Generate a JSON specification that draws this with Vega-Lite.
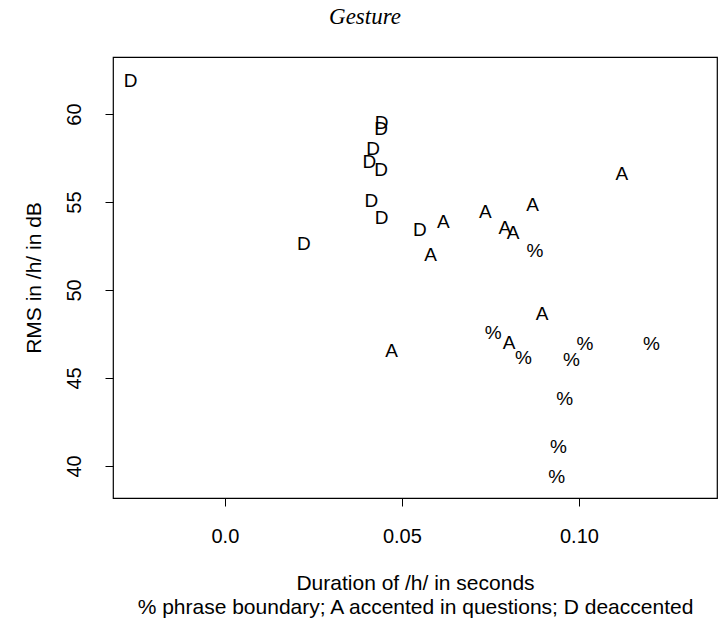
{
  "$schema": "https://vega.github.io/schema/vega-lite/v6.json",
  "width": 604,
  "height": 441,
  "autosize": {"type": "none"},
  "padding": {"left": 113, "top": 57, "right": 2, "bottom": 126},
  "background": "white",
  "title": {
    "text": "Gesture",
    "font": "Liberation Serif",
    "fontStyle": "italic",
    "fontWeight": "normal",
    "fontSize": 23,
    "color": "black",
    "anchor": "middle",
    "baseline": "alphabetic",
    "offset": 10,
    "dx": -50
  },
  "config": {
    "view": {"stroke": "black", "strokeWidth": 1.2},
    "axis": {
      "grid": false,
      "domain": false,
      "tickColor": "black",
      "tickSize": 8,
      "tickWidth": 1,
      "labelFont": "Liberation Sans",
      "labelFontSize": 20,
      "labelColor": "black",
      "titleFont": "Liberation Sans",
      "titleFontSize": 21,
      "titleFontWeight": "normal",
      "titleColor": "black"
    }
  },
  "data": {
    "values": [
      {"dur": -0.0266, "rms": 61.93, "sym": "D"},
      {"dur": 0.0443, "rms": 59.56, "sym": "D"},
      {"dur": 0.0441, "rms": 59.2, "sym": "D"},
      {"dur": 0.0419, "rms": 58.05, "sym": "D"},
      {"dur": 0.0408, "rms": 57.35, "sym": "D"},
      {"dur": 0.0441, "rms": 56.9, "sym": "D"},
      {"dur": 0.0414, "rms": 55.1, "sym": "D"},
      {"dur": 0.0443, "rms": 54.17, "sym": "D"},
      {"dur": 0.0223, "rms": 52.69, "sym": "D"},
      {"dur": 0.0551, "rms": 53.45, "sym": "D"},
      {"dur": 0.0617, "rms": 53.94, "sym": "A"},
      {"dur": 0.0581, "rms": 52.05, "sym": "A"},
      {"dur": 0.0736, "rms": 54.51, "sym": "A"},
      {"dur": 0.0869, "rms": 54.89, "sym": "A"},
      {"dur": 0.0791, "rms": 53.6, "sym": "A"},
      {"dur": 0.0814, "rms": 53.31, "sym": "A"},
      {"dur": 0.1121, "rms": 56.66, "sym": "A"},
      {"dur": 0.0896, "rms": 48.71, "sym": "A"},
      {"dur": 0.0803, "rms": 47.06, "sym": "A"},
      {"dur": 0.0471, "rms": 46.59, "sym": "A"},
      {"dur": 0.0876, "rms": 52.27, "sym": "%"},
      {"dur": 0.0758, "rms": 47.63, "sym": "%"},
      {"dur": 0.0843, "rms": 46.18, "sym": "%"},
      {"dur": 0.1017, "rms": 47.01, "sym": "%"},
      {"dur": 0.0979, "rms": 46.06, "sym": "%"},
      {"dur": 0.1205, "rms": 47.01, "sym": "%"},
      {"dur": 0.096, "rms": 43.85, "sym": "%"},
      {"dur": 0.0942, "rms": 41.14, "sym": "%"},
      {"dur": 0.0937, "rms": 39.43, "sym": "%"}
    ]
  },
  "mark": {
    "type": "text",
    "font": "Liberation Sans",
    "fontSize": 19,
    "color": "black",
    "align": "center",
    "baseline": "alphabetic",
    "dy": 7
  },
  "encoding": {
    "x": {
      "field": "dur",
      "type": "quantitative",
      "scale": {"domain": [-0.0316, 0.139], "nice": false, "zero": false},
      "axis": {
        "values": [0, 0.05, 0.1],
        "labelExpr": "datum.value == 0 ? '0.0' : (datum.value < 0.07 ? '0.05' : '0.10')",
        "labelBaseline": "alphabetic",
        "labelPadding": 36,
        "labelFlush": false,
        "title": ["Duration of /h/ in seconds", "% phrase boundary; A accented in questions; D deaccented"],
        "titleBaseline": "top",
        "titleLineHeight": 24,
        "titleX": 302,
        "titleY": 74,
        "titleAlign": "center"
      }
    },
    "y": {
      "field": "rms",
      "type": "quantitative",
      "scale": {"domain": [38.18, 63.24], "nice": false, "zero": false},
      "axis": {
        "values": [40, 45, 50, 55, 60],
        "labelAngle": -90,
        "labelAlign": "center",
        "labelBaseline": "alphabetic",
        "labelPadding": 25,
        "labelFlush": false,
        "title": "RMS in /h/ in dB",
        "titleAngle": -90,
        "titleAlign": "center",
        "titleBaseline": "alphabetic",
        "titleX": -73,
        "titleY": 220.5
      }
    },
    "text": {"field": "sym", "type": "nominal"}
  }
}
